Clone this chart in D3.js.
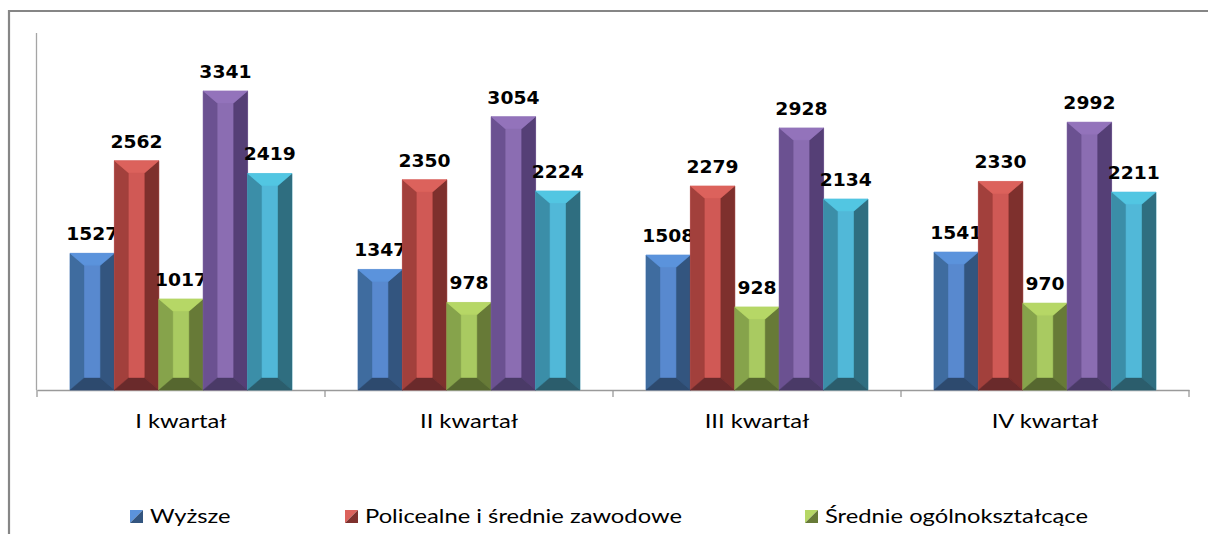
<!DOCTYPE html>
<html><head><meta charset="utf-8">
<script src="https://cdn.jsdelivr.net/npm/d3@7/dist/d3.min.js"></script>
<style>body{margin:0;background:#fff}svg{display:block}</style>
</head><body>
<svg id="c" width="1208" height="534"></svg>
<script>
const categories = ["I kwartał", "II kwartał", "III kwartał", "IV kwartał"];
const seriesNames = ["Wyższe", "Policealne i średnie zawodowe", "Średnie ogólnokształcące", "Zasadnicze zawodowe", "Gimnazjalne i poniżej"];
const wyzsze = [1527, 1347, 1508, 1541];
const policealne = [2562, 2350, 2279, 2330];
const srednieOgolne = [1017, 978, 928, 970];
const zasadnicze = [3341, 3054, 2928, 2992];
const gimnazjalne = [2419, 2224, 2134, 2211];
const seriesValues = [wyzsze, policealne, srednieOgolne, zasadnicze, gimnazjalne];
const legendShown = 3; // only the first legend row is visible in the picture
// shades: top, left, center, right, bottom
const palettes = [
  ["#5b93dc", "#3f6c9f", "#5889cf", "#33557f", "#2d4a6e"],
  ["#dc625c", "#a2403c", "#d05955", "#7e302d", "#6a2a2b"],
  ["#b6d766", "#86a34b", "#a9ca61", "#677a37", "#56672f"],
  ["#9373bb", "#6b5191", "#8b6db2", "#553f76", "#4a3a67"],
  ["#52c6e2", "#3b8ea8", "#51b8d8", "#2f6e80", "#2b5d6c"]
];

const svg = d3.select("#c");
const base = 390, topY = 32;
const stretch = 1.25;
const x0 = d3.scaleBand().domain(categories).range([37, 1189]).padding(0);
const x1 = d3.scaleBand().domain(d3.range(seriesNames.length)).range([0, x0.bandwidth()]).paddingInner(0).paddingOuter(0.743);
const y = d3.scaleLinear().domain([0, 4000]).range([base, topY]);

// frame
svg.append("path").attr("d", "M9,534 V11 H1208").attr("fill", "none").attr("stroke", "#868686").attr("stroke-width", 2.2);

// axes
const xAxis = d3.axisBottom(x0).tickSize(0).tickFormat("");
svg.append("g").attr("transform", `translate(0,${base})`).call(xAxis)
  .call(g => g.select(".domain").attr("stroke", "#9a9a9a").attr("stroke-width", 1.3));
const bounds = categories.map(c => x0(c)).concat([x0.range()[1]]);
svg.append("g").selectAll("line").data(bounds).join("line")
  .attr("x1", d => d).attr("x2", d => d).attr("y1", base).attr("y2", base + 7)
  .attr("stroke", "#9a9a9a").attr("stroke-width", 1.3);
svg.append("line").attr("x1", 36.5).attr("x2", 36.5).attr("y1", topY + 1).attr("y2", base)
  .attr("stroke", "#a5a5a5").attr("stroke-width", 1.3);

// bars
const bv = 14, bh = 12;
categories.forEach((cat, ci) => {
  seriesValues.forEach((vals, si) => {
    const v = vals[ci];
    const xa = x0(cat) + x1(si), xb = xa + x1.bandwidth();
    const yt = y(v), yb = y(0);
    const p = palettes[si];
    const g = svg.append("g");
    const poly = (pts, fill) => g.append("polygon").attr("points", pts.map(q => q.join(",")).join(" ")).attr("fill", fill).attr("stroke", fill).attr("stroke-width", 0.4);
    poly([[xa, yt], [xb, yt], [xb, yb], [xa, yb]], p[2]);
    poly([[xa, yt], [xa + bv, yt + bh], [xa + bv, yb - bh], [xa, yb]], p[1]);
    poly([[xb, yt], [xb - bv, yt + bh], [xb - bv, yb - bh], [xb, yb]], p[3]);
    poly([[xa, yb], [xa + bv, yb - bh], [xb - bv, yb - bh], [xb, yb]], p[4]);
    poly([[xa, yt], [xb, yt], [xb - bv, yt + bh], [xa + bv, yt + bh]], p[0]);
    const cx = (xa + xb) / 2;
    svg.append("text").attr("transform", `translate(${cx},${yt - 13}) scale(1.04,1)`)
      .attr("text-anchor", "middle").attr("font-family", "DejaVu Sans").attr("font-weight", "bold")
      .attr("font-size", 18).attr("fill", "#000").text(v);
  });
});

// category labels
svg.append("g").selectAll("text").data(categories).join("text")
  .attr("transform", d => `translate(${x0(d) + x0.bandwidth() / 2},428) scale(${stretch},1)`)
  .attr("text-anchor", "middle").attr("font-family", "Lato").attr("font-size", 19).attr("fill", "#000").text(d => d);

// legend (first row)
const legendX = [130, 345, 805];
const legendY = 523;
const lg = svg.append("g");
seriesNames.slice(0, legendShown).forEach((n, i) => {
  const p = palettes[i];
  const mx = legendX[i], my = legendY - 13, s = 13;
  lg.append("polygon").attr("points", `${mx},${my} ${mx + s},${my} ${mx},${my + s}`).attr("fill", p[0]);
  lg.append("polygon").attr("points", `${mx + s},${my} ${mx + s},${my + s} ${mx},${my + s}`).attr("fill", p[3]);
  lg.append("text").attr("transform", `translate(${mx + 20},${legendY}) scale(${stretch},1)`)
    .attr("font-family", "Lato").attr("font-size", 19).attr("fill", "#000").text(n);
});
</script>
</body></html>
